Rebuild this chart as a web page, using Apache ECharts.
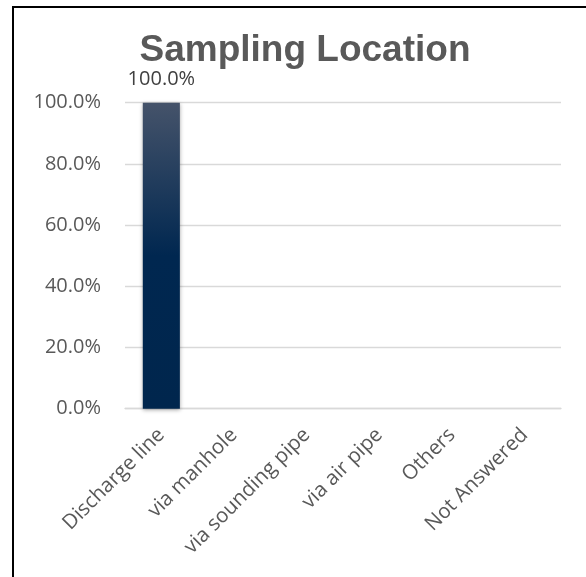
<!DOCTYPE html>
<html>
<head>
<meta charset="utf-8">
<script src="https://cdn.jsdelivr.net/npm/echarts@6/dist/echarts.min.js"></script>
<style>html,body{margin:0;padding:0;background:#fff;}#c{width:586px;height:577px;}</style>
</head>
<body>
<div id="c"></div>
<script>
const titleText = 'Sampling Location';
const categories = ['Discharge line', 'via manhole', 'via sounding pipe', 'via air pipe', 'Others', 'Not Answered'];
const values = [100, 0, 0, 0, 0, 0];
const yTicks = [0, 20, 40, 60, 80, 100];

const chart = echarts.init(document.getElementById('c'), null, {renderer: 'canvas'});
chart.setOption({
  backgroundColor: '#ffffff',
  animation: false,
  title: {
    text: titleText,
    left: 300, top: 27,
    textAlign: 'center',
    textStyle: {fontFamily: 'Liberation Sans', fontWeight: 'bold', fontSize: 37, color: '#595959'}
  },
  graphic: [{
    type: 'rect', shape: {x: 13, y: 7, width: 800, height: 800},
    style: {fill: 'none', stroke: '#000', lineWidth: 2}, silent: true
  }],
  grid: {left: 125, right: 25, top: 102.7, bottom: 168.3, containLabel: false},
  xAxis: {
    type: 'category', data: categories,
    axisLine: {show: true, lineStyle: {color: '#d9d9d9', width: 1.3}},
    axisTick: {show: false},
    axisLabel: {rotate: 45, margin: 23, color: '#595959', fontSize: 20.5, fontFamily: 'Open Sans', interval: 0}
  },
  yAxis: {
    type: 'value', min: yTicks[0], max: yTicks[yTicks.length - 1], interval: 20,
    axisLine: {show: false}, axisTick: {show: false},
    splitLine: {lineStyle: {color: '#d9d9d9', width: 1.3}},
    axisLabel: {margin: 24, color: '#595959', fontSize: 20, fontFamily: 'Open Sans',
      formatter: v => v.toFixed(1) + '%'}
  },
  series: [{
    type: 'bar', data: values, barWidth: '51%',
    itemStyle: {
      color: new echarts.graphic.LinearGradient(0, 0, 0, 1, [
        {offset: 0, color: '#45536a'},
        {offset: 0.5, color: '#002750'},
        {offset: 1, color: '#00264d'}
      ]),
      shadowColor: 'rgba(0,0,0,0.35)', shadowBlur: 4, shadowOffsetY: 1
    },
    label: {
      show: true, position: 'top', distance: 13, color: '#404040', fontSize: 20, fontFamily: 'Open Sans',
      formatter: p => p.value > 0 ? p.value.toFixed(1) + '%' : ''
    }
  }]
});
</script>
</body>
</html>
